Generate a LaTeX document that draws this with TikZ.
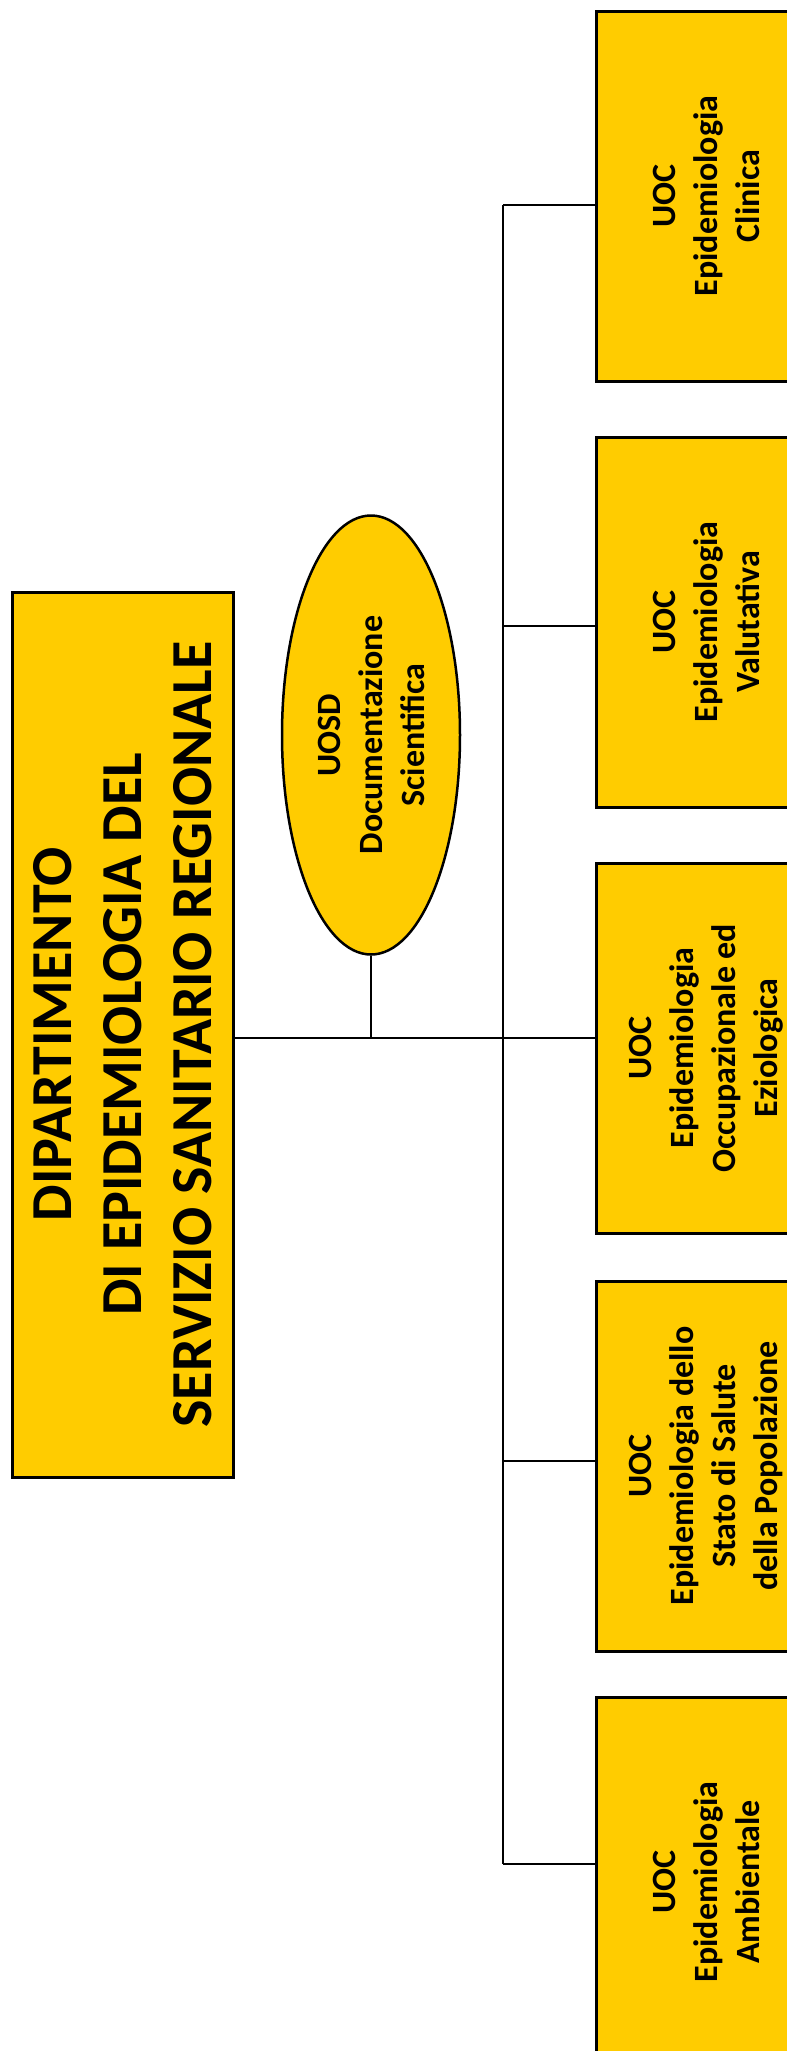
\documentclass[tikz,border=0pt]{standalone}
\usepackage{fontspec}
\setmainfont{Carlito}
\usetikzlibrary{shapes.geometric}
\definecolor{unitfill}{RGB}{255,204,0}
\begin{document}
\begin{tikzpicture}[x=1pt,y=-1pt,
  unitbox/.style={draw=black, line width=3pt, fill=unitfill, rectangle,
    rotate=90, inner sep=0pt, align=center,
    font=\fontsize{34}{42}\selectfont\bfseries},
  headbox/.style={unitbox, minimum width=885pt, minimum height=221pt,
    font=\fontsize{58}{70}\selectfont\bfseries},
  uocbox/.style={unitbox, minimum width=370pt, minimum height=221pt},
  uosd/.style={unitbox, ellipse, line width=2.5pt, minimum width=439pt,
    minimum height=178pt},
  link/.style={draw=black, line width=2.5pt}]
\useasboundingbox (0,0) rectangle (787,2051);
\fill[white] (0,0) rectangle (787,2051);

% department head
\node[headbox] (dip) at (122.5,1034.5)
  {DIPARTIMENTO\\DI EPIDEMIOLOGIA DEL\\SERVIZIO SANITARIO REGIONALE};

% staff unit
\node[uosd] (doc) at (371,735) {UOSD\\Documentazione\\Scientifica};

% operative units
\node[uocbox] (clin) at (706.5,196)  {UOC\\Epidemiologia\\Clinica};
\node[uocbox] (val)  at (706.5,622)  {UOC\\Epidemiologia\\Valutativa};
\node[uocbox] (occ)  at (706.5,1048) {UOC\\Epidemiologia\\Occupazionale ed\\Eziologica};
\node[uocbox] (pop)  at (706.5,1466) {UOC\\Epidemiologia dello\\Stato di Salute\\della Popolazione};
\node[uocbox] (amb)  at (706.5,1882) {UOC\\Epidemiologia\\Ambientale};

% trunk joints
\coordinate (j1) at (503,205);
\coordinate (j2) at (503,626);
\coordinate (j3) at (503,1038);
\coordinate (j4) at (503,1461);
\coordinate (j5) at (503,1864);
\coordinate (h0) at (dip.south |- j3);

\draw[link] (j1) -- (j5);
\draw[link] (h0) -- (j3 -| occ.north);
\draw[link] (doc.west) -- (doc.west |- j3);
\draw[link] (j1) -- (j1 -| clin.north);
\draw[link] (j2) -- (j2 -| val.north);
\draw[link] (j4) -- (j4 -| pop.north);
\draw[link] (j5) -- (j5 -| amb.north);
\end{tikzpicture}
\end{document}
